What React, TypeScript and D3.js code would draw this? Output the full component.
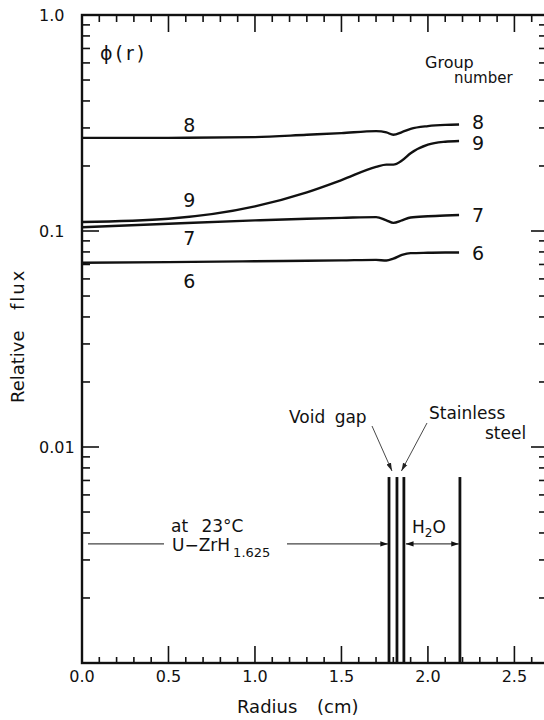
import React from "react";
import * as d3 from "d3";

// Radial positions (cm) at which the group fluxes are sampled
const radius = [0, 0.5, 1.0, 1.3, 1.5, 1.7, 1.76, 1.8, 1.85, 1.9, 2.0, 2.1, 2.18];

// Relative flux per energy group
const flux6 = [0.0713, 0.0718, 0.0724, 0.0728, 0.0731, 0.0735, 0.073, 0.0745, 0.0775, 0.079, 0.0793, 0.0795, 0.0795];
const flux7 = [0.104, 0.108, 0.112, 0.114, 0.115, 0.116, 0.112, 0.109, 0.112, 0.1155, 0.117, 0.118, 0.1186];
const flux8 = [0.27, 0.27, 0.272, 0.279, 0.284, 0.29, 0.286, 0.279, 0.287, 0.297, 0.306, 0.31, 0.311];
const flux9 = [0.11, 0.114, 0.13, 0.151, 0.172, 0.198, 0.203, 0.203, 0.212, 0.229, 0.251, 0.259, 0.261];

const groupNames = ["6", "7", "8", "9"];
const groupFlux = [flux6, flux7, flux8, flux9];

// Region boundaries (cm): fuel | void gap | stainless steel | water
const boundaries = [1.775, 1.821, 1.861, 2.185];

const xTickLabels = ["0.0", "0.5", "1.0", "1.5", "2.0", "2.5"];
const yTickLabels = ["1.0", "0.1", "0.01"];

const W = 544;
const H = 720;
const FONT = "'DejaVu Sans', 'Liberation Sans', sans-serif";

export default function App() {
  const x = d3.scaleLinear().domain([0, 2.7]).range([82, 549]);
  const y = d3.scaleLog().domain([0.001, 1]).range([663, 15]);

  const line = d3
    .line<number>()
    .x((_, i) => x(radius[i]))
    .y((d) => y(d))
    .curve(d3.curveMonotoneX);

  const xMinor = d3.range(0, 27).map((i) => i / 10);
  const yMinor: number[] = [];
  [0.001, 0.01, 0.1].forEach((dec) => {
    for (let k = 1; k <= 9; k++) yMinor.push(dec * k);
  });
  yMinor.push(1);

  const left = x(0);
  const right = x(2.7);
  const top = y(1);
  const bottom = y(0.001);

  const isMajorX = (v: number) => Math.abs(v * 2 - Math.round(v * 2)) < 1e-6;
  const isDecade = (v: number) => Math.abs(Math.log10(v) - Math.round(Math.log10(v))) < 1e-6;

  // Left-side curve labels sit near r = 0.62 cm
  const leftLabelR = 0.62;
  const leftOffsets: Record<string, number> = { "6": 19, "7": 15, "8": -13, "9": -16 };
  const rightOffsets: Record<string, number> = { "6": 0, "7": 0, "8": -3, "9": 2 };
  const interp = (arr: number[], r: number) => {
    const logs = arr.map((v) => Math.log10(v));
    const f = d3.scaleLinear().domain(radius).range(logs);
    return Math.pow(10, f(r));
  };

  const topLevel = 0.00726; // top of the boundary markers
  const arrowLevel = 0.00356; // level of the region arrows
  const ay = y(arrowLevel);

  return (
    <svg
      width={W}
      height={H}
      style={{ position: "absolute", left: 0, top: 0, background: "#fff" }}
      fontFamily={FONT}
    >
      <defs>
        <marker id="ah" viewBox="0 0 10 10" refX="10" refY="5" markerWidth="7" markerHeight="7" orient="auto-start-reverse">
          <path d="M0,1.5 L10,5 L0,8.5 z" fill="#111" />
        </marker>
        <marker id="ahs" viewBox="0 0 10 10" refX="10" refY="5" markerWidth="9" markerHeight="9" orient="auto">
          <path d="M0,2 L10,5 L0,8 z" fill="#222" />
        </marker>
      </defs>
      <rect x={0} y={0} width={W} height={H} fill="#fff" />

      {/* frame */}
      <rect x={left} y={top} width={right - left} height={bottom - top} fill="none" stroke="#111" strokeWidth={2.4} />

      {/* x ticks, bottom and top */}
      {xMinor.map((v) => {
        const major = isMajorX(v);
        return (
          <g key={"xt" + v}>
            <line x1={x(v)} x2={x(v)} y1={bottom} y2={bottom - (major ? 17 : 6)} stroke="#111" strokeWidth={1.6} />
            <line x1={x(v)} x2={x(v)} y1={top} y2={top + (major ? 17 : 7)} stroke="#111" strokeWidth={1.6} />
          </g>
        );
      })}

      {/* y ticks, left and right */}
      {yMinor.map((v) => {
        const major = isDecade(v);
        return (
          <g key={"yt" + v}>
            <line x1={left} x2={left + (major ? 17 : 8)} y1={y(v)} y2={y(v)} stroke="#111" strokeWidth={1.6} />
            <line x1={right} x2={right - (major ? 18 : 10)} y1={y(v)} y2={y(v)} stroke="#111" strokeWidth={1.6} />
          </g>
        );
      })}

      {/* x tick labels */}
      {xTickLabels.map((t) => (
        <text key={"xl" + t} x={x(+t)} y={bottom + 19} textAnchor="middle" fontSize={16} fill="#111">
          {t}
        </text>
      ))}

      {/* y tick labels */}
      {yTickLabels.map((t) => (
        <text key={"yl" + t} x={39} y={y(+t) + 6} fontSize={16} fill="#111">
          {t}
        </text>
      ))}

      {/* axis titles */}
      <text x={237} y={713} fontSize={18} fill="#111">Radius</text>
      <text x={317} y={713} fontSize={18} fill="#111">(cm)</text>
      <g transform={`translate(24, 403) rotate(-90)`}>
        <text x={0} y={0} fontSize={18} fill="#111">Relative</text>
        <text x={93} y={0} fontSize={18} fill="#111" letterSpacing={2}>flux</text>
      </g>

      <text x={100} y={60} fontSize={19} fill="#111" letterSpacing={3}>ϕ(r)</text>
      <text x={425} y={68} fontSize={16} fill="#111">Group</text>
      <text x={454} y={83} fontSize={15} fill="#111">number</text>

      {/* group flux curves */}
      {groupFlux.map((vals, gi) => (
        <path key={"c" + gi} d={line(vals) ?? ""} fill="none" stroke="#111" strokeWidth={2.4} />
      ))}

      {/* curve labels */}
      {groupNames.map((g, gi) => {
        const vals = groupFlux[gi];
        const yl = y(interp(vals, leftLabelR)) + leftOffsets[g];
        const yr = y(vals[vals.length - 1]) + rightOffsets[g];
        return (
          <g key={"lab" + g}>
            <text x={x(leftLabelR)} y={yl + 7} textAnchor="middle" fontSize={19} fill="#111">{g}</text>
            <text x={472} y={yr + 7} fontSize={19} fill="#111">{g}</text>
          </g>
        );
      })}

      {/* region boundaries */}
      {boundaries.map((b, i) => (
        <line key={"b" + i} x1={x(b)} x2={x(b)} y1={bottom} y2={y(topLevel)} stroke="#111" strokeWidth={2.8} />
      ))}

      {/* fuel region annotation */}
      <text x={171} y={532} fontSize={17} fill="#111" wordSpacing={8}>at 23°C</text>
      <text x={172} y={551} fontSize={17} fill="#111">
        U−ZrH
        <tspan fontSize={13} dy={6} dx={3}>1.625</tspan>
      </text>
      <line x1={left + 6} x2={164} y1={ay} y2={ay} stroke="#444" strokeWidth={1.1} />
      <line x1={287} x2={x(boundaries[0]) - 1} y1={ay} y2={ay} stroke="#444" strokeWidth={1.1} markerEnd="url(#ah)" />

      {/* water region annotation */}
      <text x={412} y={533} fontSize={17} fill="#111">
        H<tspan fontSize={12} dy={4}>2</tspan><tspan dy={-4}>O</tspan>
      </text>
      <line x1={x(boundaries[2]) + 2} x2={x(boundaries[3]) - 1} y1={ay} y2={ay} stroke="#444" strokeWidth={1.1} markerStart="url(#ah)" markerEnd="url(#ah)" />

      {/* void gap and cladding callouts */}
      <text x={289} y={423} fontSize={17} fill="#111" wordSpacing={4}>Void gap</text>
      <text x={429} y={419} fontSize={17} fill="#111">Stainless</text>
      <text x={485} y={439} fontSize={17} fill="#111">steel</text>
      <line x1={372} y1={426} x2={x((boundaries[0] + boundaries[1]) / 2) - 1} y2={471} stroke="#333" strokeWidth={0.9} markerEnd="url(#ahs)" />
      <line x1={427} y1={423} x2={x((boundaries[1] + boundaries[2]) / 2) + 1} y2={471} stroke="#333" strokeWidth={0.9} markerEnd="url(#ahs)" />
    </svg>
  );
}
